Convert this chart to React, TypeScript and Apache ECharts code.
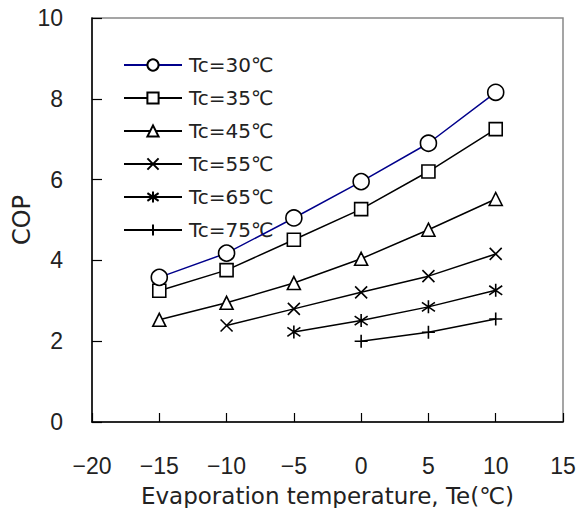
import React, { useEffect, useRef } from "react";
import * as echarts from "echarts";

const teValues = [-15, -10, -5, 0, 5, 10];
const seriesNames = ["Tc=30℃", "Tc=35℃", "Tc=45℃", "Tc=55℃", "Tc=65℃", "Tc=75℃"];
const tc30 = [3.58, 4.18, 5.05, 5.95, 6.9, 8.16];
const tc35 = [3.25, 3.76, 4.51, 5.27, 6.2, 7.25];
const tc45 = [2.53, 2.95, 3.44, 4.04, 4.76, 5.52];
const tc55 = [null, 2.39, 2.8, 3.21, 3.61, 4.16];
const tc65 = [null, null, 2.23, 2.51, 2.85, 3.26];
const tc75 = [null, null, null, 2.0, 2.22, 2.55];
const allValues = [tc30, tc35, tc45, tc55, tc65, tc75];

const lineColors = ["#00008b", "#000", "#000", "#000", "#000", "#000"];
const symbols = [
  "circle",
  "rect",
  "triangle",
  "path://M0,0L10,10M10,0L0,10",
  "path://M5,0L5,10M0.7,1.5L9.3,8.5M9.3,1.5L0.7,8.5",
  "path://M5,0L5,10M0,5L10,5",
];
const symbolSizes = [16, 13, 13, 12, 13, 13];

const SANS = "'Liberation Sans', Arial, sans-serif";
const WIDE = "'DejaVu Sans', sans-serif";

export default function App() {
  const ref = useRef<HTMLDivElement>(null);
  useEffect(() => {
    if (!ref.current) return;
    const chart = echarts.init(ref.current, null, { renderer: "svg" });
    const series = allValues.map((vals, i) => ({
      name: seriesNames[i],
      type: "line",
      data: teValues
        .map((x, j) => [x, vals[j]])
        .filter((p) => p[1] !== null),
      symbol: symbols[i],
      symbolSize: symbolSizes[i],
      showSymbol: true,
      lineStyle: { color: lineColors[i], width: 1.5 },
      itemStyle: { color: "#fff", borderColor: "#000", borderWidth: 1.6 },
      z: 10 - i,
    }));
    chart.setOption({
      animation: false,
      backgroundColor: "#fff",
      textStyle: { fontFamily: SANS },
      grid: {
        left: 92,
        right: 24,
        top: 18,
        bottom: 86,
        show: true,
        borderColor: "#888",
        borderWidth: 1.5,
        containLabel: false,
        outerBoundsMode: "none",
      },
      legend: {
        orient: "vertical",
        left: 118,
        top: 50,
        itemWidth: 58,
        itemHeight: 14,
        itemGap: 13,
        data: seriesNames,
        textStyle: {
          fontSize: 20,
          color: "#222",
          fontFamily: WIDE,
          lineHeight: 20,
          padding: [0, 0, 0, 2],
        },
      },
      xAxis: {
        type: "value",
        min: -20,
        max: 15,
        interval: 5,
        name: "Evaporation temperature, Te(℃)",
        nameLocation: "middle",
        nameGap: 62,
        nameMoveOverlap: false,
        nameTextStyle: { fontSize: 23, color: "#222", fontFamily: WIDE },
        axisLine: { show: true, onZero: false, lineStyle: { color: "#000", width: 1.5 } },
        axisTick: { show: true, inside: true, length: 9, lineStyle: { color: "#000", width: 1.2 } },
        axisLabel: {
          fontSize: 23,
          color: "#222",
          margin: 32,
          fontFamily: SANS,
          formatter: (v: number) => (v < 0 ? "\u2212" + Math.abs(v) : String(v)),
        },
        splitLine: { show: false },
      },
      yAxis: {
        type: "value",
        min: 0,
        max: 10,
        interval: 2,
        name: "COP",
        nameLocation: "middle",
        nameGap: 58,
        nameMoveOverlap: false,
        nameTextStyle: { fontSize: 24, color: "#222", fontFamily: WIDE },
        axisLine: { show: true, onZero: false, lineStyle: { color: "#000", width: 1.5 } },
        axisTick: { show: true, inside: true, length: 10, lineStyle: { color: "#000", width: 1.2 } },
        axisLabel: { fontSize: 23, color: "#222", margin: 29, fontFamily: SANS },
        splitLine: { show: false },
      },
      series,
    });
    return () => chart.dispose();
  }, []);
  return <div ref={ref} style={{ width: 587, height: 508, position: "absolute", left: 0, top: 0 }} />;
}
